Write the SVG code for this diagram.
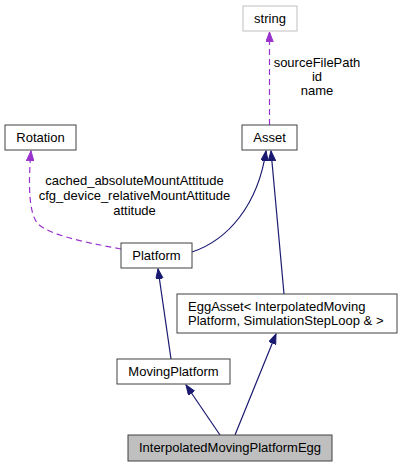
<svg xmlns="http://www.w3.org/2000/svg" width="403" height="467" viewBox="0 0 403 467">
<style>
.n rect{fill:#fff;stroke:#404040;stroke-width:1}
text{font-family:"Liberation Sans",Arial,sans-serif;font-size:13px;fill:#000}
.c{text-anchor:middle}
.inh{fill:none;stroke:#191970;stroke-width:1.2}
.use{fill:none;stroke:#9a32cd;stroke-width:1.2;stroke-dasharray:6,4}
</style>
<defs>
<marker id="an" markerWidth="11" markerHeight="8" refX="10" refY="3.75" orient="auto" markerUnits="userSpaceOnUse">
<path d="M0,0 L10,3.75 L0,7.5 z" fill="#191970" stroke="#191970"/>
</marker>
<marker id="ap" markerWidth="11" markerHeight="8" refX="10" refY="3.75" orient="auto" markerUnits="userSpaceOnUse">
<path d="M0,0 L10,3.75 L0,7.5 z" fill="#9a32cd" stroke="#9a32cd"/>
</marker>
</defs>
<g id="edges">
<path class="use" d="M269.5,125 L269.5,32" marker-end="url(#ap)"/>
<path class="use" d="M121,249 C100,245 52,237 38,224 C29,214 28,186 31,151" marker-end="url(#ap)"/>
<path class="inh" d="M192,252 C228,240 258,205 266,151" marker-end="url(#an)"/>
<path class="inh" d="M284,294 L271,151" marker-end="url(#an)"/>
<path class="inh" d="M171,359 L158,269" marker-end="url(#an)"/>
<path class="inh" d="M220,435 L186,385" marker-end="url(#an)"/>
<path class="inh" d="M235,435 L276,334" marker-end="url(#an)"/>
<text class="c" x="317" y="67">sourceFilePath</text>
<text class="c" x="317" y="81">id</text>
<text class="c" x="317" y="95">name</text>
<text class="c" x="134.5" y="185">cached_absoluteMountAttitude</text>
<text class="c" x="134.5" y="200">cfg_device_relativeMountAttitude</text>
<text class="c" x="134.5" y="214.5">attitude</text>
</g>
<g id="string" class="n"><rect x="243" y="6" width="54" height="25" style="stroke:#bfbfbf"/><text class="c" x="270" y="23">string</text></g>
<g id="Asset" class="n"><rect x="242" y="125" width="55" height="25"/><text class="c" x="269.5" y="142">Asset</text></g>
<g id="Rotation" class="n"><rect x="5" y="125" width="71" height="25"/><text class="c" x="40.5" y="142">Rotation</text></g>
<g id="Platform" class="n"><rect x="121" y="243" width="71" height="25"/><text class="c" x="156.5" y="260">Platform</text></g>
<g id="EggAsset" class="n"><rect x="177" y="294" width="220" height="39"/><text x="188" y="310.5">EggAsset&lt; InterpolatedMoving</text><text x="188" y="324.5">Platform, SimulationStepLoop &amp; &gt;</text></g>
<g id="MovingPlatform" class="n"><rect x="117" y="359" width="113" height="25"/><text class="c" x="173.5" y="376">MovingPlatform</text></g>
<g id="InterpolatedMovingPlatformEgg" class="n"><rect x="128" y="435" width="204" height="26" style="fill:#bfbfbf"/><text class="c" x="230" y="452">InterpolatedMovingPlatformEgg</text></g>
</svg>
